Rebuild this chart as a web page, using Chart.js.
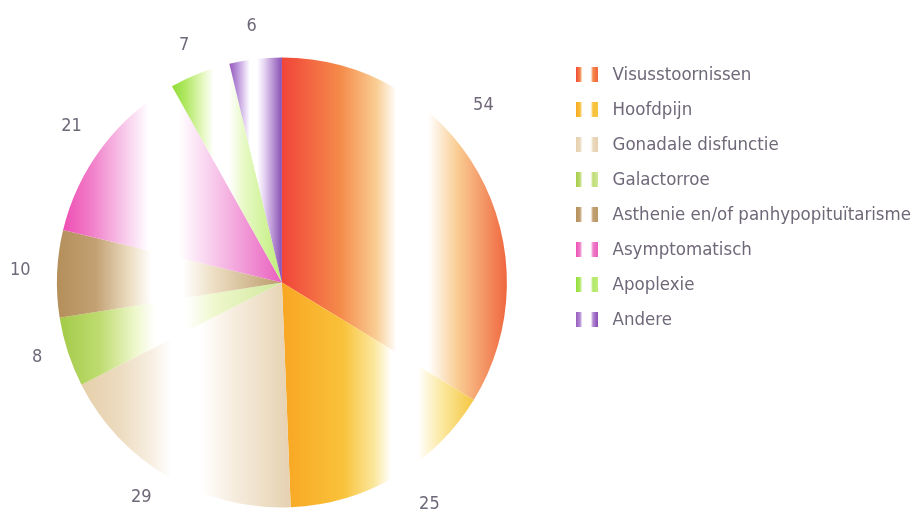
<!DOCTYPE html>
<html>
<head>
<meta charset="utf-8">
<script src="https://cdn.jsdelivr.net/npm/chart.js@4.4.1/dist/chart.umd.min.js"></script>
<style>
  html, body { margin: 0; padding: 0; background: #ffffff; }
  #wrap { width: 917px; height: 516px; }
</style>
</head>
<body>
<div id="wrap"><canvas id="pie" width="917" height="516"></canvas></div>
<script>
// --------------
// DATA
// --------------
const categories = [
  "Visusstoornissen",
  "Hoofdpijn",
  "Gonadale disfunctie",
  "Galactorroe",
  "Asthenie en/of panhypopituïtarisme",
  "Asymptomatisch",
  "Apoplexie",
  "Andere"
];
const counts = [54, 25, 29, 8, 10, 21, 7, 6];

// --------------
// SLICE SHADING
// left edge, inner tone, pale tone, right edge
// --------------
const shades = [
  ["#f1443a", "#f58b4a", "#f9cd93", "#f0663e"],
  ["#f8a623", "#f9c23a", "#fbe79c", "#f5c640"],
  ["#e6cfaa", "#ecdbbf", "#f8f0e4", "#e6d1b0"],
  ["#a3ca48", "#bedc70", "#eef7cc", "#cfe79a"],
  ["#b48f5a", "#c2a072", "#eee0c6", "#bb9a68"],
  ["#ee4db2", "#f183cb", "#f9d3ef", "#e95fbf"],
  ["#90dc34", "#b2e866", "#e8f9c6", "#bfee78"],
  ["#9459bd", "#b58dd6", "#e6d6f3", "#8a4fb4"]
];
// where the white band sits across each slice (0 = left edge, 1 = right edge)
const whiteBand = [0.58, 0.64, 0.5, 0.5, 0.49, 0.46, 0.45, 0.46];

const pieRadius = 225;
const textColor = "#6f6878";
const fontStack = "'Liberation Sans Narrow', 'DejaVu Sans Condensed', 'Open Sans', sans-serif";

const total = counts.reduce((a, b) => a + b, 0);

function clamp01(v) { return Math.max(0, Math.min(1, v)); }

// horizontal gradient spanning one slice's own width
function sliceGradient(c) {
  const chart = c.chart;
  const area = chart.chartArea;
  const i = c.dataIndex;
  if (!area) return shades[i][0];

  const cx = (area.left + area.right) / 2;
  let before = 0;
  for (let k = 0; k < i; k++) before += counts[k];
  const a0 = -Math.PI / 2 + 2 * Math.PI * before / total;
  const a1 = a0 + 2 * Math.PI * counts[i] / total;

  let xmin = cx, xmax = cx;
  for (let k = 0; k <= 90; k++) {
    const x = cx + pieRadius * Math.cos(a0 + (a1 - a0) * k / 90);
    xmin = Math.min(xmin, x);
    xmax = Math.max(xmax, x);
  }

  const [left, inner, pale, right] = shades[i];
  const w = whiteBand[i];
  const g = chart.ctx.createLinearGradient(xmin, 0, xmax, 0);
  g.addColorStop(0, left);
  g.addColorStop(clamp01(w - 0.32), inner);
  g.addColorStop(clamp01(w - 0.16), pale);
  g.addColorStop(clamp01(w - 0.07), "#ffffff");
  g.addColorStop(clamp01(w + 0.07), "#ffffff");
  g.addColorStop(clamp01(w + 0.2), pale);
  g.addColorStop(1, right);
  return g;
}

// legend swatch: two little bars with a white gap
function swatch(i) {
  const cv = document.createElement("canvas");
  cv.width = 22;
  cv.height = 15;
  const cx = cv.getContext("2d");
  const [left, inner, pale, right] = shades[i];
  const g = cx.createLinearGradient(0, 0, 22, 0);
  g.addColorStop(0, left);
  g.addColorStop(0.22, inner);
  g.addColorStop(0.3, "#ffffff");
  g.addColorStop(0.7, "#ffffff");
  g.addColorStop(0.78, inner);
  g.addColorStop(1, right);
  cx.fillStyle = g;
  cx.fillRect(0, 0, 22, 15);
  return cv;
}
const swatches = categories.map((_, i) => swatch(i));

// --------------
// VALUE LABELS OUTSIDE THE PIE
// --------------
const outsideLabels = {
  id: "outsideLabels",
  afterDatasetsDraw(chart, args, opts) {
    const ctx = chart.ctx;
    const meta = chart.getDatasetMeta(0);
    ctx.save();
    ctx.fillStyle = textColor;
    ctx.font = "18px " + fontStack;
    ctx.textAlign = "center";
    ctx.textBaseline = "middle";
    meta.data.forEach((arc, i) => {
      const mid = (arc.startAngle + arc.endAngle) / 2 + (opts.nudge[i] || 0) * Math.PI / 180;
      const d = arc.outerRadius + opts.gap[i];
      ctx.fillText(String(counts[i]), arc.x + d * Math.cos(mid), arc.y + d * Math.sin(mid));
    });
    ctx.restore();
  }
};

new Chart(document.getElementById("pie"), {
  type: "pie",
  data: {
    labels: categories,
    datasets: [{
      data: counts,
      radius: pieRadius,
      backgroundColor: sliceGradient,
      borderWidth: 0,
      hoverOffset: 0
    }]
  },
  options: {
    responsive: false,
    animation: false,
    events: [],
    layout: { padding: { top: 49, bottom: 0, left: 10.5, right: -4 } },
    plugins: {
      tooltip: { enabled: false },
      legend: {
        position: "right",
        align: "start",
        labels: {
          usePointStyle: true,
          pointStyleWidth: 33.5,
          padding: 16.5,
          color: textColor,
          font: { size: 18.5, family: fontStack },
          generateLabels: (chart) => categories.map((name, i) => ({
            text: name,
            pointStyle: swatches[i],
            fillStyle: shades[i][0],
            strokeStyle: "transparent",
            lineWidth: 0,
            fontColor: textColor,
            hidden: false,
            index: i
          }))
        }
      },
      outsideLabels: {
        gap: [43, 41, 32, 31, 37, 37, 32, 33],
        nudge: [-12, -3.3, 2.8, 1, 0.5, -0.5, -1, 0]
      }
    }
  },
  plugins: [outsideLabels]
});
</script>
</body>
</html>
